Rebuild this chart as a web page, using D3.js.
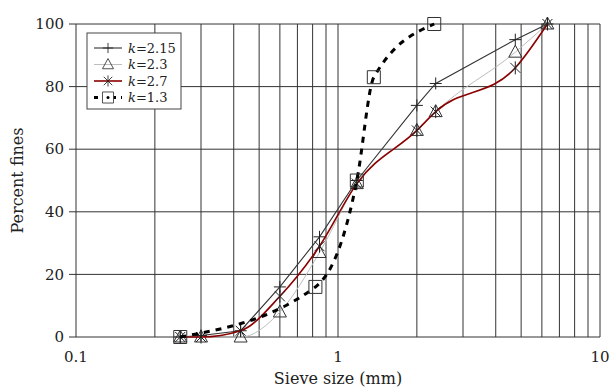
<!DOCTYPE html>
<html>
<head>
<meta charset="utf-8">
<script src="https://cdn.jsdelivr.net/npm/d3@7"></script>
<style>
  body { margin: 0; background: #fff; }
  svg { display: block; font-family: "DejaVu Serif", "Liberation Serif", serif; }
</style>
</head>
<body>
<div id="chart"></div>
<script>
// sieve sizes (mm) and percent passing for each grading
const sizesA = [0.25, 0.3, 0.425, 0.6, 0.85, 1.18, 2.0, 2.36, 4.75, 6.3];
const k215 = [0, 0.5, 2, 16, 32, 50, 74, 81, 95, 100];
const k23 = [0, 0, 0, 8, 27, 49, 66, 72, 91, 100];
const k27 = [0, 0, 2, 13, 29, 49, 66, 72, 86, 100];
const sizesB = [0.25, 0.82, 1.18, 1.37, 2.33];
const k13 = [0, 16, 50, 83, 100];

const xTicks = [0.1, 1, 10];
const yTicks = [0, 20, 40, 60, 80, 100];

const width = 610, height = 387;
const margin = { top: 24, right: 10, bottom: 50, left: 76 };

const svg = d3.select('#chart').append('svg')
  .attr('width', width)
  .attr('height', height);

const x = d3.scaleLog()
  .domain([0.1, 10])
  .range([margin.left, width - margin.right]);

const y = d3.scaleLinear()
  .domain([0, 100])
  .range([height - margin.bottom, margin.top]);

// grid: every 1..9 of each decade
const minor = [];
for (let d = 0.1; d < 10; d *= 10) {
  for (let i = 1; i <= 9; i++) minor.push(+(d * i).toFixed(3));
}
minor.push(10);

const gridColor = '#333';
svg.append('g').selectAll('line')
  .data(minor)
  .enter().append('line')
  .attr('x1', d => x(d)).attr('x2', d => x(d))
  .attr('y1', y(0)).attr('y2', y(100))
  .attr('stroke', gridColor)
  .attr('stroke-width', 1);

svg.append('g').selectAll('line')
  .data(yTicks)
  .enter().append('line')
  .attr('x1', x(0.1) - 7).attr('x2', x(10))
  .attr('y1', d => y(d)).attr('y2', d => y(d))
  .attr('stroke', gridColor)
  .attr('stroke-width', 1);

// tick labels
svg.append('g').selectAll('text')
  .data(yTicks)
  .enter().append('text')
  .attr('x', x(0.1) - 12)
  .attr('y', d => y(d))
  .attr('dy', '0.35em')
  .attr('text-anchor', 'end')
  .attr('font-size', '15px')
  .attr('fill', '#222')
  .text(d => d);

svg.append('g').selectAll('text')
  .data(xTicks)
  .enter().append('text')
  .attr('x', d => x(d))
  .attr('y', y(0) + 25)
  .attr('text-anchor', 'middle')
  .attr('font-size', '15px')
  .attr('fill', '#222')
  .text(d => d);

svg.append('text')
  .attr('x', (x(0.1) + x(10)) / 2)
  .attr('y', 384)
  .attr('text-anchor', 'middle')
  .attr('font-size', '16px')
  .attr('fill', '#222')
  .text('Sieve size (mm)');

svg.append('text')
  .attr('transform', `translate(23,${(y(0) + y(100)) / 2}) rotate(-90)`)
  .attr('text-anchor', 'middle')
  .attr('font-size', '16px')
  .attr('fill', '#222')
  .text('Percent fines');

// marker shapes
const markerPath = {
  plus: 'M-6,0H6M0,-6V6',
  tri: 'M0,-7L6.5,5H-6.5Z',
  star: 'M-5,-5L5,5M-5,5L5,-5M0,-6.5V6.5',
  square: 'M-6.5,-6.5H6.5V6.5H-6.5Z'
};

const series = [
  { label: '2.15', sizes: sizesA, vals: k215, color: '#333', width: 1.1, dash: null, curve: d3.curveLinear, marker: 'plus', mColor: '#222' },
  { label: '2.3', sizes: sizesA, vals: k23, color: '#bdbdbd', width: 1, dash: null, curve: d3.curveMonotoneX, marker: 'tri', mColor: '#333' },
  { label: '2.7', sizes: sizesA, vals: k27, color: '#8b0000', width: 1.6, dash: null, curve: d3.curveMonotoneX, marker: 'star', mColor: '#222' },
  { label: '1.3', sizes: sizesB, vals: k13, color: '#000', width: 3, dash: '6,6', curve: d3.curveBasis, marker: 'square', mColor: '#333' }
];

series.forEach(s => {
  const pts = s.sizes.map((v, i) => ({ x: v, y: s.vals[i] }));
  const line = d3.line()
    .x(d => x(d.x))
    .y(d => y(d.y))
    .curve(s.label === '1.3' ? d3.curveMonotoneX : s.curve);

  svg.append('path')
    .datum(pts)
    .attr('fill', 'none')
    .attr('stroke', s.color)
    .attr('stroke-width', s.width)
    .attr('stroke-dasharray', s.dash)
    .attr('d', line);

  svg.append('g').selectAll('path')
    .data(pts)
    .enter().append('path')
    .attr('transform', d => `translate(${x(d.x)},${y(d.y)})`)
    .attr('d', markerPath[s.marker])
    .attr('fill', 'none')
    .attr('stroke', s.mColor)
    .attr('stroke-width', 1);
});

// legend
const lg = svg.append('g').attr('transform', 'translate(87,33)');
lg.append('rect')
  .attr('width', 94).attr('height', 76)
  .attr('fill', '#fff')
  .attr('stroke', '#444')
  .attr('stroke-width', 1);

series.forEach((s, i) => {
  const row = lg.append('g').attr('transform', `translate(0,${15 + i * 16.5})`);
  row.append('line')
    .attr('x1', 7).attr('x2', 35)
    .attr('stroke', s.color)
    .attr('stroke-width', s.width)
    .attr('stroke-dasharray', s.dash ? '4,5' : null);
  row.append('path')
    .attr('transform', 'translate(21,0) scale(0.85)')
    .attr('d', markerPath[s.marker])
    .attr('fill', s.marker === 'square' ? '#fff' : 'none')
    .attr('stroke', s.mColor)
    .attr('stroke-width', 1);
  if (s.marker === 'square') {
    row.append('circle').attr('cx', 21).attr('r', 1.5).attr('fill', '#000');
  }
  const t = row.append('text')
    .attr('x', 41)
    .attr('dy', '0.35em')
    .attr('font-size', '13px')
    .attr('fill', '#222');
  t.append('tspan').attr('font-style', 'italic').text('k');
  t.append('tspan').text('=' + s.label);
});
</script>
</body>
</html>
